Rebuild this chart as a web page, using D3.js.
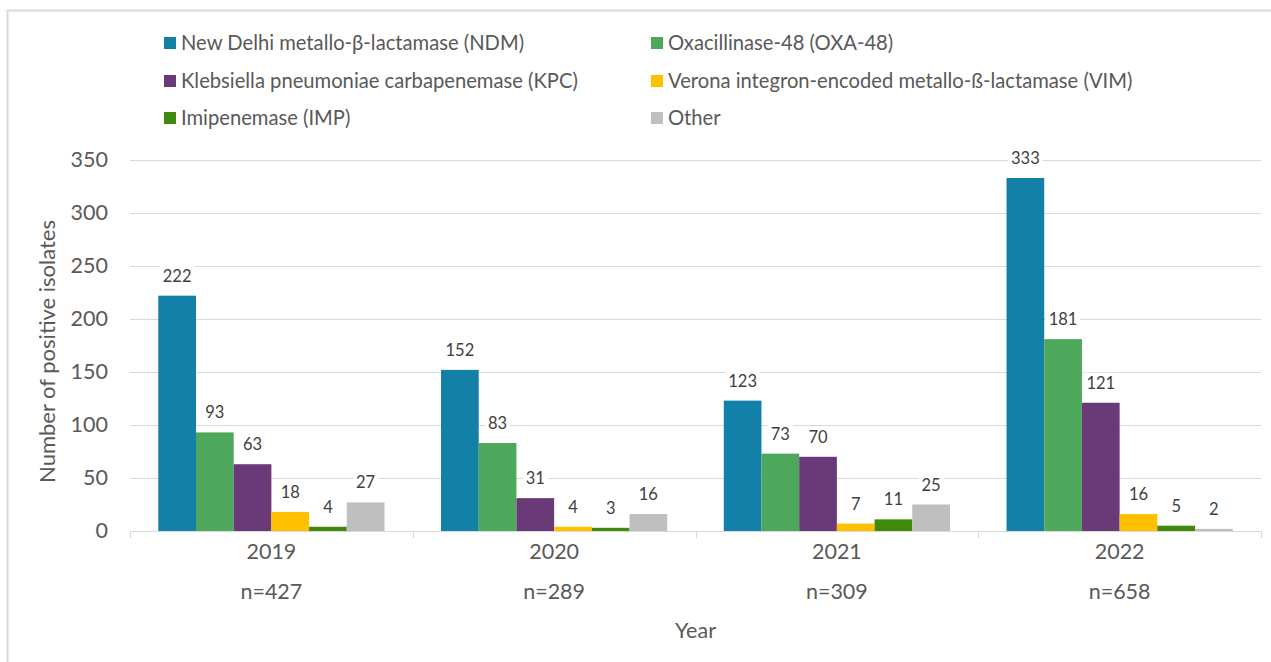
<!DOCTYPE html>
<html>
<head>
<meta charset="utf-8">
<script src="https://cdn.jsdelivr.net/npm/d3@7"></script>
<style>
  html, body { margin: 0; padding: 0; background: #fff; }
  svg { display: block; font-family: Lato, "Noto Sans", sans-serif; }
</style>
</head>
<body>
<svg id="chart" width="1271" height="662"></svg>
<script>
// Carbapenemase types detected per year
const years = ["2019", "2020", "2021", "2022"];
const yearTotals = ["n=427", "n=289", "n=309", "n=658"];
const seriesNames = [
  "New Delhi metallo-β-lactamase (NDM)",
  "Oxacillinase-48 (OXA-48)",
  "Klebsiella pneumoniae carbapenemase (KPC)",
  "Verona integron-encoded metallo-ß-lactamase (VIM)",
  "Imipenemase (IMP)",
  "Other"
];
const ndm   = [222, 152, 123, 333];
const oxa48 = [93, 83, 73, 181];
const kpc   = [63, 31, 70, 121];
const vim   = [18, 4, 7, 16];
const imp   = [4, 3, 11, 5];
const other = [27, 16, 25, 2];
const yTicks = [0, 50, 100, 150, 200, 250, 300, 350];

const seriesValues = [ndm, oxa48, kpc, vim, imp, other];
const colors = ["#1380A8", "#4EA85C", "#6A3A78", "#FFC000", "#3F8A0B", "#BFBFBF"];

const svg = d3.select("#chart");

// frame lines (top and left)
svg.append("line").attr("x1", 7).attr("x2", 1271).attr("y1", 10.5).attr("y2", 10.5)
  .attr("stroke", "#d9d9d9").attr("stroke-width", 2);
svg.append("line").attr("x1", 7.5).attr("x2", 7.5).attr("y1", 10).attr("y2", 662)
  .attr("stroke", "#d9d9d9").attr("stroke-width", 2);

const plot = { left: 130, right: 1261, top: 160, bottom: 531 };

const x0 = d3.scaleBand().domain(years).range([plot.left, plot.right]).padding(0);
const x1 = d3.scaleBand().domain(d3.range(seriesNames.length))
  .range([0, x0.bandwidth()]).paddingInner(0).paddingOuter(0.75);
const y = d3.scaleLinear().domain([0, 350]).range([plot.bottom, plot.top]);

// gridlines
svg.append("g").selectAll("line").data(yTicks.filter(d => d > 0)).join("line")
  .attr("x1", plot.left).attr("x2", plot.right)
  .attr("y1", d => Math.round(y(d)) + 0.5).attr("y2", d => Math.round(y(d)) + 0.5)
  .attr("stroke", "#d9d9d9").attr("stroke-width", 1);

// y axis labels
const yAxis = d3.axisLeft(y).tickValues(yTicks).tickSize(0).tickPadding(0);
const gy = svg.append("g").attr("transform", `translate(108,0)`).call(yAxis);
gy.select(".domain").remove();
gy.selectAll("text").attr("font-size", 21.5).attr("fill", "#595959")
  .attr("font-family", "Lato, sans-serif");

// y axis title
svg.append("text")
  .attr("transform", `translate(55,${(plot.top + plot.bottom) / 2 + 6}) rotate(-90)`)
  .attr("text-anchor", "middle").attr("font-size", 22).attr("fill", "#595959")
  .text("Number of positive isolates");

// bars
const groups = svg.append("g").selectAll("g").data(years).join("g")
  .attr("transform", d => `translate(${x0(d)},0)`);

groups.each(function (yr, yi) {
  const g = d3.select(this);
  seriesValues.forEach((vals, si) => {
    const v = vals[yi];
    g.append("rect")
      .attr("x", x1(si)).attr("width", x1.bandwidth())
      .attr("y", y(v)).attr("height", y(0) - y(v))
      .attr("fill", colors[si]);
  });
});

// x axis line + boundary ticks
svg.append("line").attr("x1", plot.left).attr("x2", plot.right)
  .attr("y1", plot.bottom + 0.5).attr("y2", plot.bottom + 0.5)
  .attr("stroke", "#d9d9d9").attr("stroke-width", 1);
const bounds = years.map(d => x0(d)).concat([plot.right]);
svg.append("g").selectAll("line").data(bounds).join("line")
  .attr("x1", d => Math.round(d) + 0.5).attr("x2", d => Math.round(d) + 0.5)
  .attr("y1", plot.bottom).attr("y2", plot.bottom + 7)
  .attr("stroke", "#d9d9d9").attr("stroke-width", 1);

// data labels with white backing
groups.each(function (yr, yi) {
  const g = d3.select(this);
  seriesValues.forEach((vals, si) => {
    const v = vals[yi];
    const cx = x1(si) + x1.bandwidth() / 2;
    const t = g.append("text")
      .attr("x", cx).attr("y", y(v) - 14)
      .attr("text-anchor", "middle").attr("font-size", 16.5).attr("fill", "#404040")
      .text(v);
    const bb = t.node().getBBox();
    g.insert("rect", function () { return t.node(); })
      .attr("x", bb.x - 3).attr("y", bb.y).attr("width", bb.width + 6).attr("height", bb.height)
      .attr("fill", "#fff");
  });
});

// category labels
const xl = svg.append("g").selectAll("g").data(years).join("g")
  .attr("transform", d => `translate(${x0(d) + x0.bandwidth() / 2},0)`);
xl.append("text").attr("y", 559).attr("text-anchor", "middle")
  .attr("font-size", 21.5).attr("fill", "#595959").text(d => d);
xl.append("text").attr("y", 599).attr("text-anchor", "middle")
  .attr("font-size", 21.5).attr("fill", "#595959").text((d, i) => yearTotals[i]);

// x axis title
svg.append("text").attr("x", (plot.left + plot.right) / 2).attr("y", 638)
  .attr("text-anchor", "middle").attr("font-size", 21.5).attr("fill", "#595959").text("Year");

// legend (two columns, three rows)
const legendCols = [164, 651];
const legendRows = [43, 81, 118];
const leg = svg.append("g").selectAll("g").data(seriesNames).join("g")
  .attr("transform", (d, i) => `translate(${legendCols[i % 2]},${legendRows[Math.floor(i / 2)]})`);
leg.append("rect").attr("x", 0).attr("y", -6).attr("width", 12).attr("height", 12)
  .attr("fill", (d, i) => colors[i]);
leg.append("text").attr("x", 17).attr("y", 7)
  .attr("font-size", 20.2).attr("fill", "#595959").text(d => d);
</script>
</body>
</html>
